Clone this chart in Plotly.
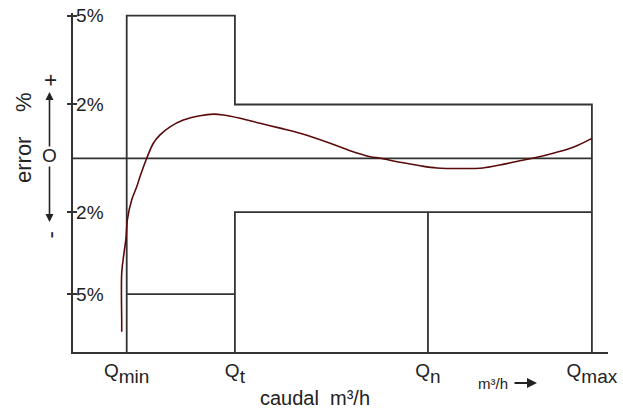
import plotly.graph_objects as go

# ---- data (schematic units) ----
q_names = ["min", "t", "n", "max"]
q_labels = ["Q<sub><sub><span style='font-size:19px'>%s</span></sub></sub>" % s
            for s in q_names]
q_pos = [1.035, 3.12, 6.84, 10.0]

y_tick_vals = [5.3, 2.0, -2.0, -5.05]
y_tick_text = ["5%", "2%", "2%", "5%"]

upper_low_range = 5.3    # +5% limit  (Qmin..Qt)
upper_high_range = 2.0   # +2% limit  (Qt..Qmax)
lower_low_range = -5.05  # -5% limit  (Qmin..Qt)
lower_high_range = -2.0  # -2% limit  (Qt..Qmax)

curve_x = [0.939, 0.939, 0.939, 0.983, 1.022, 1.047, 1.132, 1.228, 1.292, 1.421,
           1.548, 1.677, 1.870, 2.126, 2.448, 2.705, 2.898, 3.220, 3.605, 3.991,
           4.377, 4.955, 5.340, 5.726, 5.919, 6.304, 6.690, 7.012, 7.456, 7.900,
           8.227, 8.613, 8.902, 9.254, 9.640, 10.0]
curve_y = [-6.45, -6.13, -4.26, -3.52, -2.96, -2.29, -1.54, -1.06, -0.68, 0.0,
           0.56, 0.87, 1.17, 1.42, 1.58, 1.64, 1.61, 1.49, 1.30, 1.12,
           0.93, 0.56, 0.28, 0.06, 0.0, -0.15, -0.28, -0.36, -0.38, -0.36,
           -0.25, -0.09, 0.02, 0.19, 0.41, 0.74]

x_range = [0, 10.31]
y_range = [-7.2, 5.4]

LINE = "#333333"
CURVE = "#5a0a0a"
TXT = "#222222"
FONT = "Liberation Sans, Arial, sans-serif"

qmin, qt, qn, qmax = q_pos
ybot = y_range[0]

fig = go.Figure()

def seg(xs, ys, color=LINE, width=1.8, shape="linear"):
    fig.add_trace(go.Scatter(x=xs, y=ys, mode="lines",
                             line=dict(color=color, width=width, shape=shape),
                             hoverinfo="skip", showlegend=False))

# zero line
seg([x_range[0], qmax], [0, 0])
# upper envelope
seg([qmin, qmin, qt, qt, qmax, qmax],
    [ybot, upper_low_range, upper_low_range, upper_high_range, upper_high_range, ybot])
# lower -5% segment
seg([qmin, qt], [lower_low_range, lower_low_range])
# lower -2% envelope
seg([qt, qt, qmax], [ybot, lower_high_range, lower_high_range])
# Qn vertical
seg([qn, qn], [lower_high_range, ybot])
# error curve
seg(curve_x, curve_y, color=CURVE, width=1.6, shape="spline")

# secondary axis only for the outside half of crossing ticks
fig.add_trace(go.Scatter(x=[None], y=[None], yaxis="y2", showlegend=False))

fig.update_layout(
    width=623, height=409,
    margin=dict(l=73, r=15, t=13, b=57, autoexpand=False),
    paper_bgcolor="white", plot_bgcolor="white",
    font=dict(family=FONT, color=TXT),
    xaxis=dict(range=x_range, showgrid=False, zeroline=False, automargin=False,
               showline=True, linecolor=LINE, linewidth=1.8,
               tickvals=q_pos, ticktext=q_labels, ticks="",
               tickfont=dict(size=19, color=TXT)),
    yaxis=dict(range=y_range, showgrid=False, zeroline=False, automargin=False,
               showline=True, linecolor=LINE, linewidth=1.8,
               tickvals=y_tick_vals, ticktext=y_tick_text,
               ticks="inside", ticklen=4, tickcolor=LINE, tickwidth=1.5,
               ticklabelposition="inside", ticklabeloverflow="allow",
               tickfont=dict(size=19, color=TXT)),
    yaxis2=dict(range=y_range, overlaying="y", side="left", anchor="x",
                automargin=False,
                showgrid=False, zeroline=False, showline=False,
                tickvals=y_tick_vals, ticktext=["" for _ in y_tick_vals],
                ticks="outside", ticklen=5, tickcolor=LINE, tickwidth=1.5),
)

def px_x(p):  # pixel x -> paper
    return (p - 73) / 535.0

def px_y(p):  # pixel y -> paper
    return (352 - p) / 339.0

def label(text, x, y, size, angle=0):
    return dict(text=text, textangle=angle, xref="paper", yref="paper",
                x=px_x(x), y=px_y(y), xanchor="center", yanchor="middle",
                showarrow=False, font=dict(size=size, color=TXT))

def arrow(x, y, ax, ay, width):
    return dict(text="", xref="paper", yref="paper", x=px_x(x), y=px_y(y),
                xanchor="center", yanchor="middle",
                showarrow=True, ax=ax, ay=ay, arrowhead=2, arrowsize=1,
                arrowwidth=width, arrowcolor=TXT, standoff=0, startstandoff=0)

ann = [
    label("error    %", 23, 138, 22, -90),
    label("+", 49.5, 80, 22, -90),
    label("-", 49.5, 235, 22, -90),
    label("O", 49.5, 156, 19),
    arrow(49.5, 92, 0, 56, 1.6),
    arrow(49.5, 222, 0, -57, 1.6),
    label("caudal  m³/h", 315, 398, 20),
    label("m³/h", 493, 383, 15),
    arrow(537, 383, -24, 0, 2),
]
fig.update_layout(annotations=ann)

fig.write_html("out.html", config={"displayModeBar": False},
               post_script="document.body.style.margin='0';")
